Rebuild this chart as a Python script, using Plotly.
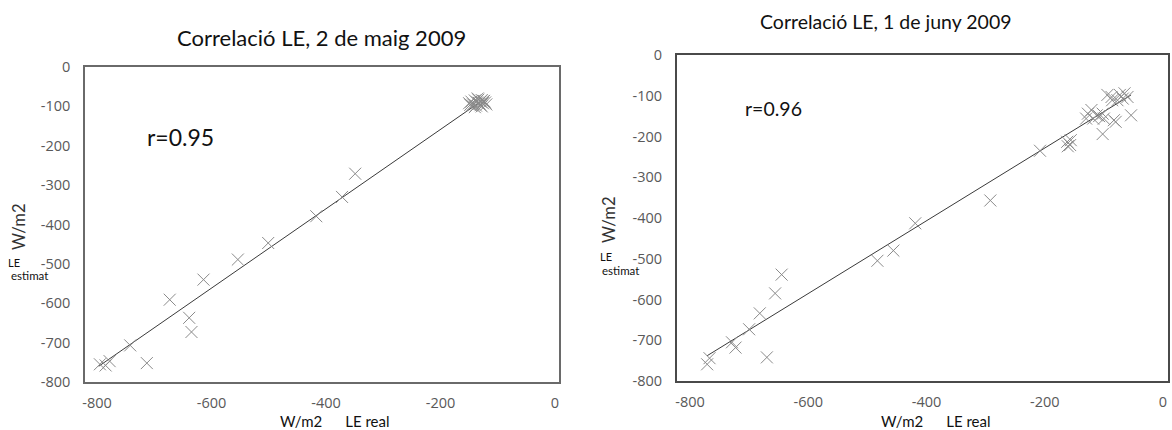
import plotly.graph_objects as go

# ---- data ----
# Left: 2 de maig 2009
may_real = [-349, -372, -417, -501, -554, -614, -673, -639, -635, -742, -713, -778, -795, -785,
            -150, -146, -143, -140, -138, -136, -134, -132, -130, -128, -126, -124, -122, -120,
            -140, -135, -130, -128, -145, -133, -148, -125]
may_est = [-271, -330, -379, -447, -489, -540, -591, -637, -673, -707, -752, -747, -755, -758,
           -92, -88, -95, -85, -98, -90, -83, -94, -88, -100, -92, -86, -90, -95,
           -102, -80, -97, -84, -98, -91, -96, -87]
may_fit_x = [-797, -130]
may_fit_y = [-760, -88]

# Right: 1 de juny 2009
jun_real = [-771, -767, -729, -723, -700, -682, -670, -656, -645, -483, -456, -419, -292, -208,
            -162, -157, -156, -161, -121, -118, -112, -102, -100, -102, -94, -87, -83, -80,
            -73, -68, -65, -60, -54, -130, -127, -77, -86, -108]
jun_est = [-759, -744, -705, -718, -673, -634, -742, -585, -539, -505, -480, -413, -357, -235,
           -213, -221, -209, -224, -135, -156, -148, -144, -156, -194, -98, -103, -160, -164,
           -98, -107, -94, -103, -148, -156, -144, -111, -111, -150]
jun_fit_x = [-771, -54]
jun_fit_y = [-738, -98]

y_ticks = [0, -100, -200, -300, -400, -500, -600, -700, -800]
x_ticks = [-800, -600, -400, -200, 0]

W, H = 1172, 430
def px(x):
    return x / W
def py(y):
    return 1 - y / H

MARK = dict(symbol="x-thin-open", size=12, color="#8a8a8a", line=dict(width=1, color="#8a8a8a"))
LINE = dict(color="#3a3a3a", width=1)

fig = go.Figure()
fig.add_trace(go.Scatter(x=may_fit_x, y=may_fit_y, mode="lines", line=LINE, xaxis="x", yaxis="y", showlegend=False))
fig.add_trace(go.Scatter(x=may_real, y=may_est, mode="markers", marker=MARK, xaxis="x", yaxis="y", showlegend=False))
fig.add_trace(go.Scatter(x=jun_fit_x, y=jun_fit_y, mode="lines", line=LINE, xaxis="x2", yaxis="y2", showlegend=False))
fig.add_trace(go.Scatter(x=jun_real, y=jun_est, mode="markers", marker=MARK, xaxis="x2", yaxis="y2", showlegend=False))

tickfont = dict(family="Open Sans", size=14.5, color="#595959")

def xax(domain, rng, anchor, lc, lw):
    return dict(domain=domain, range=rng, anchor=anchor, tickvals=x_ticks, ticktext=[str(v) for v in x_ticks],
                showgrid=False, zeroline=False, showline=True, mirror=True, linecolor=lc, linewidth=lw,
                ticks="", tickfont=tickfont, ticklabelstandoff=7, fixedrange=True, automargin=False)

def yax(domain, anchor, lc, lw):
    return dict(domain=domain, range=[-800, 0], anchor=anchor, tickvals=y_ticks, ticktext=[str(v) for v in y_ticks],
                showgrid=False, zeroline=False, showline=True, mirror=True, linecolor=lc, linewidth=lw,
                ticks="", tickfont=tickfont, ticklabelstandoff=10, fixedrange=True, automargin=False)

L_dom_x = [px(85), px(559)]
L_dom_y = [py(382), py(67)]
R_dom_x = [px(677), px(1168)]
R_dom_y = [py(381), py(55)]

fig.update_layout(
    width=W, height=H, margin=dict(l=0, r=0, t=0, b=0, pad=0, autoexpand=False),
    paper_bgcolor="white", plot_bgcolor="white",
    xaxis=xax(L_dom_x, [-821, 7], "y", "#6a6a6a", 1.5),
    yaxis=yax(L_dom_y, "x", "#6a6a6a", 1.5),
    xaxis2=xax(R_dom_x, [-822, 8.5], "y2", "#4a4a4a", 2),
    yaxis2=yax(R_dom_y, "x2", "#4a4a4a", 2),
    # right-side tick marks
    yaxis3=dict(domain=L_dom_y, range=[-800, 0], overlaying="y", anchor="x", side="right",
                tickvals=y_ticks[1:-1], showticklabels=False, ticks="inside", ticklen=3,
                tickcolor="#555", showgrid=False, zeroline=False, fixedrange=True, automargin=False),
    yaxis4=dict(domain=R_dom_y, range=[-800, 0], overlaying="y2", anchor="x2", side="right",
                tickvals=y_ticks[1:-1], showticklabels=False, ticks="inside", ticklen=3,
                tickcolor="#555", showgrid=False, zeroline=False, fixedrange=True, automargin=False),
)

ann_font = "Lato"
anns = [
    dict(text="Correlació LE, 2 de maig 2009", x=px(321), y=py(38), size=22),
    dict(text="Correlació LE, 1 de juny 2009", x=px(886), y=py(21), size=19.5),
    dict(text="r=0.95", x=px(180), y=py(137), size=23),
    dict(text="r=0.96", x=px(773), y=py(109), size=19.5),
    dict(text="W/m2      LE real", x=px(335), y=py(421), size=15),
    dict(text="W/m2      LE real", x=px(936), y=py(421), size=15),
    dict(text="LE", x=px(14), y=py(262), size=11),
    dict(text="estimat", x=px(29), y=py(275), size=11.5),
    dict(text="LE", x=px(606), y=py(256), size=11),
    dict(text="estimat", x=px(620), y=py(270), size=11.5),
]
for a in anns:
    fig.add_annotation(text=a["text"], x=a["x"], y=a["y"], xref="paper", yref="paper",
                       xanchor="center", yanchor="middle", showarrow=False,
                       font=dict(family=ann_font, size=a["size"], color="#111"))

for xc, yc in [(19, 227), (609, 220)]:
    fig.add_annotation(text="W/m2", x=px(xc), y=py(yc), xref="paper", yref="paper",
                       xanchor="center", yanchor="middle", showarrow=False, textangle=-90,
                       font=dict(family=ann_font, size=16.5, color="#333"))

fig.write_html("out.html")
